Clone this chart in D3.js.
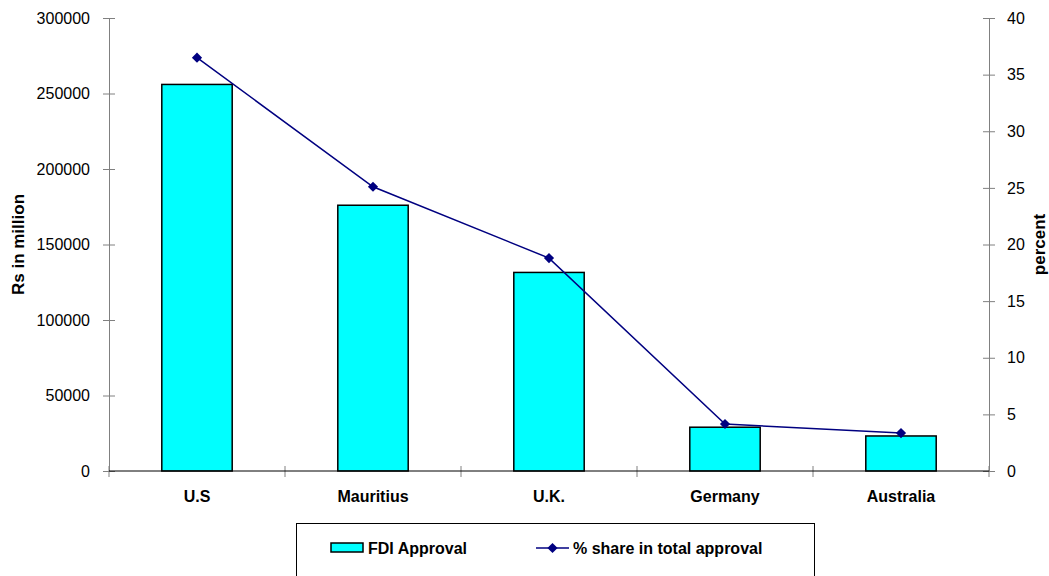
<!DOCTYPE html>
<html>
<head>
  <meta charset="utf-8" />
  <title>FDI Approval by country</title>
  <script src="https://cdn.jsdelivr.net/npm/d3@7"></script>
  <style>
    body { margin: 0; background: #fff; }
    svg text { font-family: "Liberation Sans", Arial, sans-serif; fill: #000; }
  </style>
</head>
<body>
  <div id="chart"></div>
  <script>
    // data
    const countries = ["U.S", "Mauritius", "U.K.", "Germany", "Australia"];
    const fdiApproval = [256000, 176000, 131500, 29000, 23200];
    const shareTotal = [36.5, 25.1, 18.8, 4.15, 3.35];
    const leftTicks = [0, 50000, 100000, 150000, 200000, 250000, 300000];
    const rightTicks = [0, 5, 10, 15, 20, 25, 30, 35, 40];

    const W = 1049, H = 576;
    const plot = { left: 109, right: 989, top: 18, bottom: 471 };

    const svg = d3.select("#chart").append("svg")
      .attr("width", W).attr("height", H);

    const x = d3.scaleBand()
      .domain(countries)
      .range([plot.left, plot.right])
      .paddingInner(0.6).paddingOuter(0.3);

    const yL = d3.scaleLinear().domain([0, 300000]).range([plot.bottom, plot.top]);
    const yR = d3.scaleLinear().domain([0, 40]).range([plot.bottom, plot.top]);

    // bars
    svg.append("g").selectAll("rect")
      .data(countries)
      .join("rect")
      .attr("x", d => x(d))
      .attr("y", (d, i) => yL(fdiApproval[i]))
      .attr("width", x.bandwidth())
      .attr("height", (d, i) => yL(0) - yL(fdiApproval[i]))
      .attr("fill", "#00ffff")
      .attr("stroke", "#000")
      .attr("stroke-width", 1.5);

    // left axis
    const axL = svg.append("g")
      .attr("transform", `translate(${plot.left},0)`)
      .call(d3.axisLeft(yL).tickValues(leftTicks).tickSize(6).tickPadding(13).tickFormat(d3.format("d")));
    axL.select(".domain").attr("stroke", "#808080");
    axL.selectAll(".tick line").attr("stroke", "#808080").attr("x2", -6).attr("x1", 6);
    axL.selectAll("text").attr("font-size", 16);

    // right axis
    const axR = svg.append("g")
      .attr("transform", `translate(${plot.right},0)`)
      .call(d3.axisRight(yR).tickValues(rightTicks).tickSize(6).tickPadding(12));
    axR.select(".domain").attr("stroke", "#808080");
    axR.selectAll(".tick line").attr("stroke", "#808080").attr("x1", -6).attr("x2", 6);
    axR.selectAll("text").attr("font-size", 16);

    // category axis: ticks sit between the categories
    const bounds = d3.range(countries.length + 1)
      .map(i => plot.left + i * (plot.right - plot.left) / countries.length);
    svg.append("g").selectAll("line")
      .data(bounds)
      .join("line")
      .attr("x1", d => d).attr("x2", d => d)
      .attr("y1", plot.bottom - 5).attr("y2", plot.bottom + 6)
      .attr("stroke", "#808080");
    svg.append("line")
      .attr("x1", plot.left).attr("x2", plot.right)
      .attr("y1", plot.bottom).attr("y2", plot.bottom)
      .attr("stroke", "#000");
    svg.append("g").selectAll("text")
      .data(countries)
      .join("text")
      .attr("x", d => x(d) + x.bandwidth() / 2)
      .attr("y", 502)
      .attr("text-anchor", "middle")
      .attr("font-size", 16)
      .attr("font-weight", "bold")
      .text(d => d);

    // line series
    const cx = d => x(d) + x.bandwidth() / 2;
    const line = d3.line()
      .x((d, i) => cx(countries[i]))
      .y(d => yR(d));
    svg.append("path")
      .datum(shareTotal)
      .attr("d", line)
      .attr("fill", "none")
      .attr("stroke", "#000080")
      .attr("stroke-width", 1.5);
    const marker = d3.symbol(d3.symbolSquare, 52);
    svg.append("g").selectAll("path")
      .data(shareTotal)
      .join("path")
      .attr("d", marker)
      .attr("transform", (d, i) => `translate(${cx(countries[i])},${yR(d)}) rotate(45)`)
      .attr("fill", "#000080");

    // axis titles
    svg.append("text")
      .attr("transform", `translate(24,${(plot.top + plot.bottom) / 2}) rotate(-90)`)
      .attr("text-anchor", "middle")
      .attr("font-size", 17)
      .attr("font-weight", "bold")
      .text("Rs in million");
    svg.append("text")
      .attr("transform", `translate(1045,${(plot.top + plot.bottom) / 2}) rotate(-90)`)
      .attr("text-anchor", "middle")
      .attr("font-size", 17)
      .attr("font-weight", "bold")
      .text("percent");

    // legend
    const lg = svg.append("g");
    lg.append("rect")
      .attr("x", 296.5).attr("y", 523.5)
      .attr("width", 518).attr("height", 70)
      .attr("fill", "#fff").attr("stroke", "#000");
    lg.append("rect")
      .attr("x", 331).attr("y", 543)
      .attr("width", 32).attr("height", 9)
      .attr("fill", "#00ffff").attr("stroke", "#000").attr("stroke-width", 1.5);
    lg.append("text")
      .attr("x", 368).attr("y", 554)
      .attr("font-size", 16).attr("font-weight", "bold")
      .text("FDI Approval");
    lg.append("line")
      .attr("x1", 536).attr("x2", 569).attr("y1", 548).attr("y2", 548)
      .attr("stroke", "#000080").attr("stroke-width", 1.5);
    lg.append("path")
      .attr("d", marker)
      .attr("transform", "translate(552.5,548) rotate(45)")
      .attr("fill", "#000080");
    lg.append("text")
      .attr("x", 573).attr("y", 554)
      .attr("font-size", 16).attr("font-weight", "bold")
      .text("% share in total approval");
  </script>
</body>
</html>
